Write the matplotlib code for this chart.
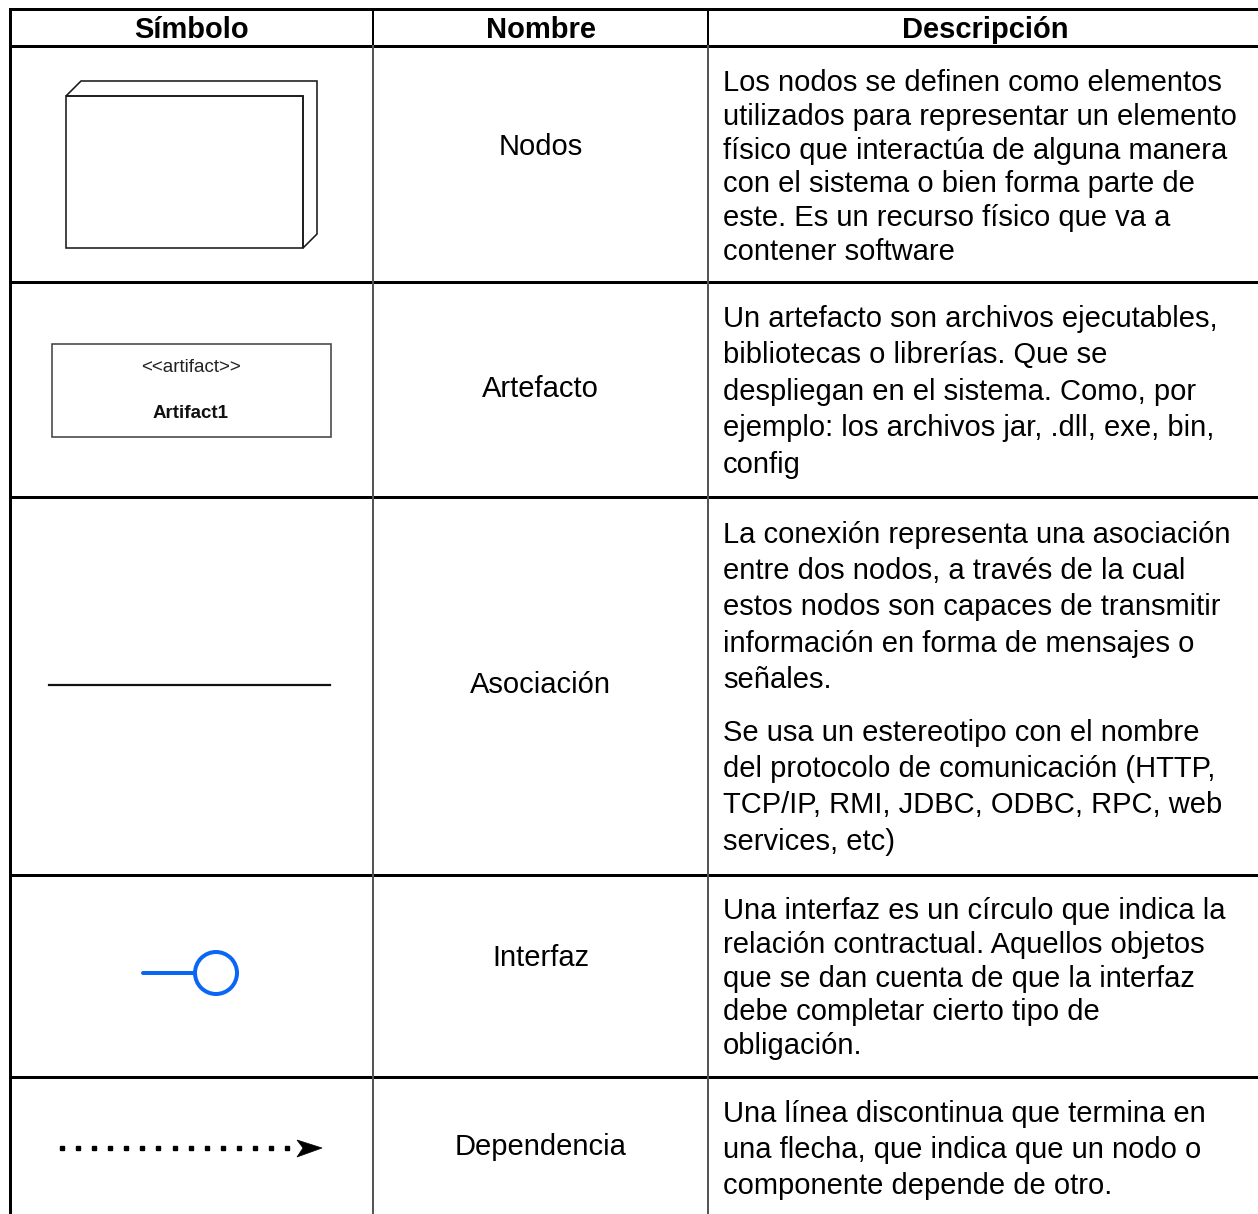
import numpy as np
import matplotlib.pyplot as plt
from matplotlib.patches import Rectangle, Circle, Polygon

plt.rcParams['font.family'] = ['Liberation Sans', 'DejaVu Sans']

# table content
headers = ['Símbolo', 'Nombre', 'Descripción']
names = ['Nodos', 'Artefacto', 'Asociación', 'Interfaz', 'Dependencia']
descriptions = [
    [["Los nodos se definen como elementos",
      "utilizados para representar un elemento",
      "físico que interactúa de alguna manera",
      "con el sistema o bien forma parte de",
      "este. Es un recurso físico que va a",
      "contener software"]],
    [["Un artefacto son archivos ejecutables,",
      "bibliotecas o librerías. Que se",
      "despliegan en el sistema. Como, por",
      "ejemplo: los archivos jar, .dll, exe, bin,",
      "config"]],
    [["La conexión representa una asociación",
      "entre dos nodos, a través de la cual",
      "estos nodos son capaces de transmitir",
      "información en forma de mensajes o",
      "señales."],
     ["Se usa un estereotipo con el nombre",
      "del protocolo de comunicación (HTTP,",
      "TCP/IP, RMI, JDBC, ODBC, RPC, web",
      "services, etc)"]],
    [["Una interfaz es un círculo que indica la",
      "relación contractual. Aquellos objetos",
      "que se dan cuenta de que la interfaz",
      "debe completar cierto tipo de",
      "obligación."]],
    [["Una línea discontinua que termina en",
      "una flecha, que indica que un nodo o",
      "componente depende de otro."]],
]
artifact_stereo = '<<artifact>>'
artifact_name = 'Artifact1'

# layout (pixels)
W, H = 1258, 1214
col_x = [10, 373, 708, 1262]
top_y = 9
header_y = 46
row_lines = [282, 497, 875, 1077]
name_y = [145, 387, 683, 956, 1145]
first_line = [83, 319, 535, 911, 1114]
line_step = [33.8, 36.5, 36.2, 33.8, 36.0]
para_gap = 17
fs = 21

fig = plt.figure(figsize=(W / 100, H / 100), dpi=100)
ax = fig.add_axes([0, 0, 1, 1])
ax.set_xlim(0, W)
ax.set_ylim(H, 0)
ax.axis('off')

px = 0.72  # one pixel in points

# grid
for y in [top_y, header_y] + row_lines:
    ax.plot([col_x[0] - 1, col_x[-1]], [y, y], color='black', lw=3 * px, solid_capstyle='butt')
ax.plot([col_x[0], col_x[0]], [top_y, H + 5], color='black', lw=3 * px)
for x in col_x[1:3]:
    ax.plot([x, x], [top_y, header_y], color='black', lw=2 * px)
    ax.plot([x, x], [header_y, H + 5], color='#555555', lw=2 * px)

# headers
for i, h in enumerate(headers):
    cx = (col_x[i] + col_x[i + 1]) / 2
    ax.text(cx, 30, h, ha='center', va='center', fontsize=fs, fontweight='bold')

# names and descriptions
for i, n in enumerate(names):
    ax.text((col_x[1] + col_x[2]) / 2, name_y[i] + 2, n, ha='center', va='center', fontsize=fs)
    y = first_line[i]
    for p, para in enumerate(descriptions[i]):
        if p > 0:
            y += para_gap
        for line in para:
            ax.text(723, y, line, ha='left', va='center', fontsize=fs)
            y += line_step[i]

# symbol: node (3D box)
lw1 = 1.6 * px
ax.add_patch(Rectangle((66, 96), 237, 152, fill=False, ec='#1a1a1a', lw=lw1))
ax.add_patch(Polygon([[66, 96], [81, 81], [317, 81], [317, 234], [303, 248], [303, 96]],
                     closed=True, fill=False, ec='#1a1a1a', lw=lw1))

# symbol: artifact
ax.add_patch(Rectangle((52, 344), 279, 93, fill=False, ec='#444444', lw=1.6 * px))
ax.text(191, 368, artifact_stereo, ha='center', va='center', fontsize=13.5, color='#222222')
ax.text(191, 413, artifact_name, ha='center', va='center', fontsize=13.5, fontweight='bold', color='#111111')

# symbol: association
ax.plot([49, 330], [685, 685], color='#111111', lw=2.2 * px)

# symbol: interface
blue = '#0a66f5'
ax.plot([143, 193], [973, 973], color=blue, lw=4 * px, solid_capstyle='round')
ax.add_patch(Circle((216, 973), 21, fill=False, ec=blue, lw=4 * px))

# symbol: dependency
dots_x = np.linspace(62, 287, 15)
ax.plot(dots_x, np.full_like(dots_x, 1148), ls='none', marker='s', ms=3.5 * px, color='black')
ax.add_patch(Polygon([[297, 1140], [322, 1148], [297, 1157], [303, 1148]], closed=True,
                     fc='black', ec='black', lw=0.5))

fig.savefig('out.png', dpi=100)
